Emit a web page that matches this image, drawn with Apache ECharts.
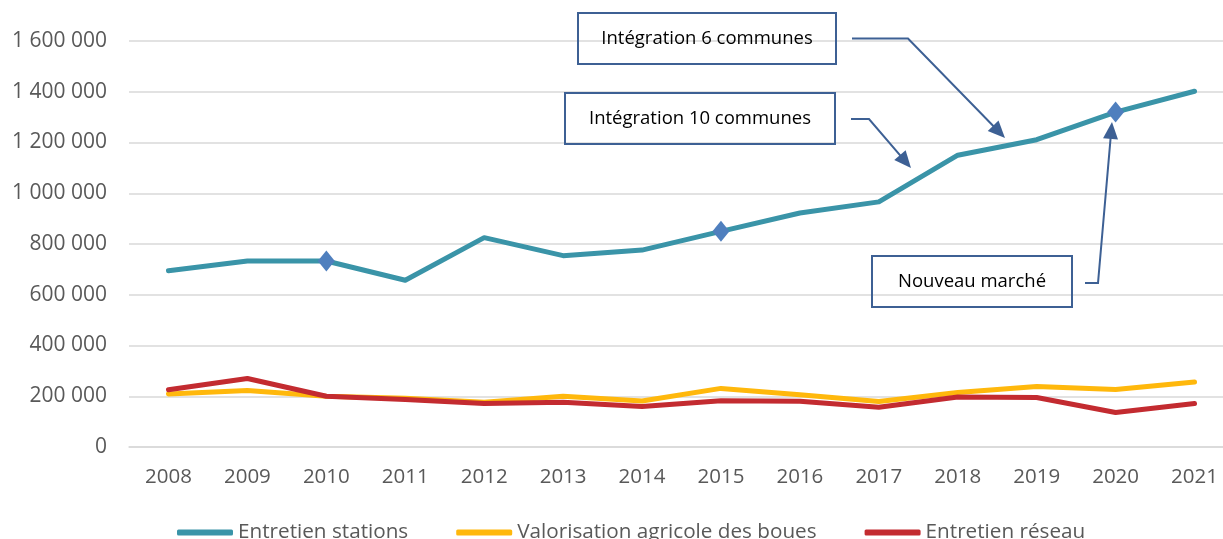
<!DOCTYPE html>
<html>
<head>
<meta charset="utf-8">
<script src="https://cdn.jsdelivr.net/npm/echarts@6/dist/echarts.min.js"></script>
<style>
html,body{margin:0;padding:0;background:#fff;}
#chart{width:1223px;height:539px;}
</style>
</head>
<body>
<div id="chart"></div>
<script>
// ---- Data ----
const years = ['2008','2009','2010','2011','2012','2013','2014','2015','2016','2017','2018','2019','2020','2021'];
const entretienStations = [695000, 733000, 733000, 657000, 825000, 754000, 776000, 850000, 922000, 966000, 1150000, 1211000, 1320000, 1402000];
const valorisationBoues = [209000, 223000, 200000, 192000, 176000, 200000, 181000, 231000, 206000, 179000, 215000, 238000, 227000, 256000];
const entretienReseau   = [226000, 270000, 200000, 187000, 171000, 176000, 160000, 182000, 180000, 157000, 197000, 195000, 136000, 171000];
const markedYears = ['2010','2015','2020'];
const yTicks = { min: 0, max: 1600000, interval: 200000 };
const annotations = [
  { text: 'Intégration 6 communes' },
  { text: 'Intégration 10 communes' },
  { text: 'Nouveau marché' }
];

const FONT = '"Open Sans", sans-serif';
const ANNOT = '#3D6094';

function fmt(v){ return String(v).replace(/\B(?=(\d{3})+(?!\d))/g, ' '); }

const stationsData = entretienStations.map((v, i) => markedYears.includes(years[i])
  ? { value: v, symbol: 'diamond', symbolSize: [17, 21], itemStyle: { color: '#4F7FBE' } }
  : { value: v, symbol: 'none' });

// arrow helper
function arrow(points){
  const n = points.length;
  const T = points[n-1], P = points[n-2];
  const dx = T[0]-P[0], dy = T[1]-P[1];
  const L = Math.sqrt(dx*dx+dy*dy);
  const ux = dx/L, uy = dy/L;
  const hl = 17, hw = 7.5;
  const bx = T[0]-ux*hl, by = T[1]-uy*hl;
  const linePts = points.slice(0, n-1).concat([[bx+ux*2, by+uy*2]]);
  return [
    { type:'polyline', shape:{ points: linePts }, style:{ stroke: ANNOT, lineWidth: 2, fill: null }, z: 100 },
    { type:'polygon', shape:{ points: [T, [bx - uy*hw, by + ux*hw], [bx + uy*hw, by - ux*hw]] }, style:{ fill: ANNOT }, z: 100 }
  ];
}
function box(x, y, w, h, text){
  return [
    { type:'rect', shape:{ x, y, width:w, height:h }, style:{ fill:'transparent', stroke: ANNOT, lineWidth: 2 }, z: 100 },
    { type:'text', x: x + w/2, y: y + h/2, style:{ text, fill:'#000', font: '18.5px ' + FONT, align:'center', verticalAlign:'middle' }, z: 101 }
  ];
}

const graphics = []
  .concat(box(578, 13, 258, 51, annotations[0].text))
  .concat(box(565, 93, 270, 51, annotations[1].text))
  .concat(box(872, 256, 200, 51, annotations[2].text))
  .concat(arrow([[852, 38.5], [908, 38.5], [1005, 138]]))
  .concat(arrow([[851, 119], [869, 119], [911, 168]]))
  .concat(arrow([[1085, 283], [1098, 283], [1112, 122]]));

const chart = echarts.init(document.getElementById('chart'), null, { renderer: 'canvas' });
chart.setOption({
  animation: false,
  backgroundColor: '#fff',
  textStyle: { fontFamily: FONT },
  grid: { left: 129, top: 41, width: 1105, height: 406, containLabel: false, outerBoundsMode: 'none' },
  legend: {
    left: 177, top: 522, padding: 0,
    itemWidth: 56, itemHeight: 6, itemGap: 48,
    icon: 'roundRect',
    textStyle: { fontFamily: FONT, fontSize: 20.7, color: '#595959' },
    data: ['Entretien stations', 'Valorisation agricole des boues', 'Entretien réseau']
  },
  xAxis: {
    type: 'category',
    data: years,
    boundaryGap: true,
    axisLine: { show: true, lineStyle: { color: '#d9d9d9', width: 1.5 } },
    axisTick: { show: false },
    axisLabel: { color: '#595959', fontSize: 20.5, fontFamily: FONT, margin: 20 }
  },
  yAxis: {
    type: 'value',
    min: yTicks.min, max: yTicks.max, interval: yTicks.interval,
    axisLine: { show: false },
    axisTick: { show: false },
    axisLabel: { color: '#595959', fontSize: 21, fontFamily: FONT, margin: 22, formatter: fmt },
    splitLine: { lineStyle: { color: '#d9d9d9', width: 1.5 } }
  },
  series: [
    { name: 'Entretien stations', type: 'line', data: stationsData, symbol: 'none', showSymbol: true, showAllSymbol: true,
      color: '#3A94A8', lineStyle: { width: 5, color: '#3A94A8', cap: 'round', join: 'round' }, z: 4 },
    { name: 'Valorisation agricole des boues', type: 'line', data: valorisationBoues, symbol: 'none',
      color: '#FFB80C', lineStyle: { width: 5, color: '#FFB80C', cap: 'round', join: 'round' }, z: 2 },
    { name: 'Entretien réseau', type: 'line', data: entretienReseau, symbol: 'none',
      color: '#C32B30', lineStyle: { width: 5, color: '#C32B30', cap: 'round', join: 'round' }, z: 3 }
  ],
  graphic: { elements: graphics }
});
</script>
</body>
</html>
